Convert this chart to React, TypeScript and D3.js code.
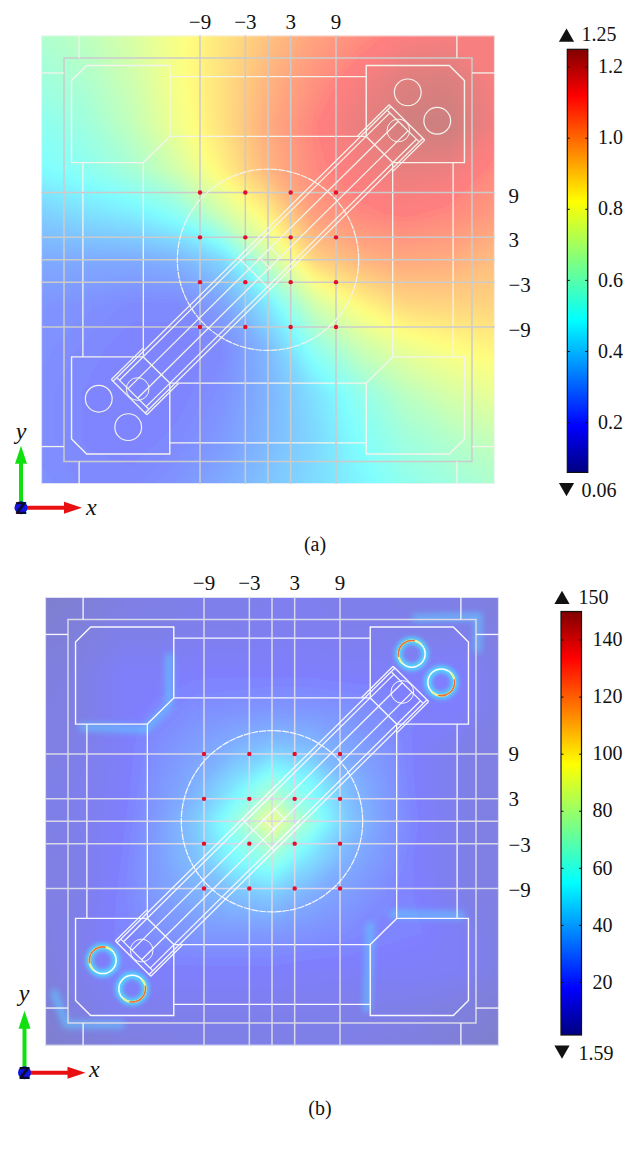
import * as d3 from 'd3';

// sample positions (model units) and field readings, rows run top to bottom
const gridA = [-30, -24, -18, -12, -6, 0, 6, 12, 18, 24, 30];
const fieldA = [
  [0.62, 0.66, 0.73, 0.81, 0.89, 0.97, 1.04, 1.09, 1.13, 1.14, 1.14],
  [0.58, 0.62, 0.7, 0.81, 0.9, 1.0, 1.08, 1.14, 1.19, 1.2, 1.14],
  [0.53, 0.58, 0.67, 0.79, 0.9, 1.02, 1.11, 1.17, 1.22, 1.23, 1.15],
  [0.49, 0.53, 0.6, 0.71, 0.86, 1.0, 1.1, 1.14, 1.17, 1.16, 1.1],
  [0.38, 0.42, 0.45, 0.52, 0.7, 0.86, 1.05, 1.1, 1.12, 1.1, 1.06],
  [0.3, 0.3, 0.3, 0.32, 0.4, 0.68, 0.93, 1.0, 1.03, 1.02, 0.98],
  [0.25, 0.24, 0.22, 0.22, 0.28, 0.44, 0.7, 0.84, 0.92, 0.93, 0.93],
  [0.24, 0.22, 0.2, 0.2, 0.22, 0.33, 0.53, 0.68, 0.77, 0.82, 0.85],
  [0.23, 0.21, 0.2, 0.2, 0.24, 0.32, 0.42, 0.54, 0.65, 0.72, 0.77],
  [0.23, 0.21, 0.2, 0.22, 0.26, 0.33, 0.4, 0.5, 0.58, 0.63, 0.68],
  [0.24, 0.22, 0.22, 0.25, 0.3, 0.36, 0.41, 0.47, 0.54, 0.58, 0.62],
];
const gridB = [-30, -25, -20, -15, -10, -5, 0, 5, 10, 15, 20, 25, 30];
const fieldB = [
  [6, 8, 11, 12, 13, 13, 14, 14, 13, 13, 12, 12, 10],
  [8, 10, 13, 13, 14, 14, 15, 15, 14, 14, 13, 14, 11],
  [10, 12, 17, 17, 18, 18, 18, 18, 17, 17, 18, 18, 12],
  [11, 12, 17, 20, 23, 24, 25, 25, 24, 22, 18, 18, 12],
  [11, 13, 17, 23, 28, 33, 38, 36, 30, 24, 17, 13, 11],
  [12, 14, 17, 25, 33, 47, 66, 55, 36, 26, 17, 13, 11],
  [12, 14, 18, 27, 40, 64, 94, 66, 40, 27, 18, 13, 11],
  [11, 13, 19, 28, 38, 55, 66, 47, 33, 25, 17, 13, 11],
  [11, 13, 20, 27, 33, 37, 40, 32, 27, 22, 18, 13, 11],
  [11, 14, 20, 24, 26, 26, 26, 24, 22, 20, 19, 16, 11],
  [10, 14, 20, 18, 18, 18, 18, 17, 17, 17, 17, 16, 11],
  [8, 12, 15, 14, 14, 14, 14, 14, 13, 13, 12, 10, 8],
  [6, 8, 10, 11, 12, 12, 12, 12, 12, 11, 10, 8, 5],
];

const probes = [-9, -3, 3, 9];
const gridLines = [-9, -3, 0, 3, 9];
const xTickLabels = ['\u22129', '\u22123', '3', '9'];
const yTickLabels = ['9', '3', '\u22123', '\u22129'];
const ticksA = [0.2, 0.4, 0.6, 0.8, 1.0, 1.2];
const ticksB = [20, 40, 60, 80, 100, 120, 140];

// plate layout in model units
const padOutline = [[26, 24], [24, 26], [13, 26], [13, 16.5], [16.5, 13], [26, 13]];
const corners = [[-1, 1], [1, 1], [-1, -1], [1, -1]];
const holes = [[18.5, 22.4], [22.4, 18.6]];
const railOffsets = [
  [3.33, 26, 20.1], [3.0, 26, -2.6], [2.5, 25.3, -2.6], [0.9, 25.3, -1.5],
];
const armBars = [[26, 3.33], [25.3, 2.9]];
const centreBars = [[-2.6, 3], [1.4, 1.2], [-0.6, 1.2]];
const glowB = [
  [[-13.6, 22], [-13.6, 15.5], [-16.5, 12.5]],
  [[-17, 12.3], [-25, 12.6]],
  [[13, -14], [12.6, -25]],
  [[16, -12.4], [25, -12.6]],
  [[19, 27.2], [27.3, 27.4], [27.2, 23]],
  [[-28.8, -23], [-27.2, -27.2], [-20, -27.2]],
];
// hot rim on the holes of panel b: centre, start and end angle in degrees
const hotArcs = [
  [18.5, 22.4, 225, 405],
  [22.4, 18.6, 45, 225],
  [-22.4, -18.6, 225, 405],
  [-18.5, -22.4, 45, 225],
];

const jetStops: [number, string][] = [
  [0, '#000080'], [0.11, '#0000ff'], [0.36, '#00ffff'],
  [0.64, '#ffff00'], [0.89, '#ff0000'], [1, '#800000'],
];
const jet = d3.scaleLinear<string>()
  .domain(jetStops.map((d) => d[0]))
  .range(jetStops.map((d) => d[1]))
  .clamp(true);

const SERIF = '"Liberation Serif", serif';

const arm = (s: number, t: number): [number, number] => [
  (s - t) / Math.SQRT2,
  (s + t) / Math.SQRT2,
];

const Panel = ({ id, dx, dy, grid, field, domain, step, lineColor, gridColor, blur, hot }: any) => {
  const x = d3.scaleLinear().domain([-9, 9]).range([200 + dx, 336 + dx]);
  const y = d3.scaleLinear().domain([-9, 9]).range([327 + dy, 192.5 + dy]);
  const color = (v: number) => jet((v - domain[0]) / (domain[1] - domain[0]));
  const unit = (x(1) - x(0));
  const toPath = (pts: number[][], close = false) =>
    d3.line().x((d) => x(d[0])).y((d) => y(d[1]))(pts as any) + (close ? 'Z' : '');

  const n = grid.length;
  const values = field.flat();
  const thresholds = d3.range(d3.min(values) as number, d3.max(values) as number, step);
  const contours = d3.contours().size([n, n]).thresholds(thresholds)(values);
  const gx = d3.scaleLinear().domain([0.5, n - 0.5]).range([x(-30), x(30)]);
  const gy = d3.scaleLinear().domain([0.5, n - 0.5]).range([y(30), y(-30)]);
  const geoPath = d3.geoPath(d3.geoTransform({
    point(px, py) { this.stream.point(gx(px), gy(py)); },
  }));

  const arc = d3.arc();
  const hole = (cx: number, cy: number, r: number, key: string, w = 1.1) => (
    <circle key={key} cx={x(cx)} cy={y(cy)} r={r * unit} fill="none" stroke={lineColor} strokeWidth={w} />
  );

  return (
    <g>
      <defs>
        <clipPath id={`plot-${id}`}>
          <rect x={x(-30)} y={y(30)} width={x(30) - x(-30)} height={y(-30) - y(30)} />
        </clipPath>
        <filter id={`soft-${id}`} x="-10%" y="-10%" width="120%" height="120%">
          <feGaussianBlur stdDeviation={blur} />
        </filter>
        <filter id={`glow-${id}`} filterUnits="userSpaceOnUse" x="0" y="0" width="636" height="1153">
          <feGaussianBlur stdDeviation="3" />
        </filter>
        <filter id={`halo-${id}`} x="-60%" y="-60%" width="220%" height="220%">
          <feGaussianBlur stdDeviation="2" />
        </filter>
      </defs>
      <g clipPath={`url(#plot-${id})`}>
        <g opacity={0.5}>
          <g filter={`url(#soft-${id})`}>
            {contours.map((c, i) => (
              <path key={i} d={geoPath(c) || ''} fill={color(c.value)} />
            ))}
          </g>
        </g>
        {hot && glowB.map((pts, i) => (
          <path key={i} d={toPath(pts)} fill="none" stroke="#62c8ff" strokeWidth={8} strokeLinecap="round" opacity={0.65} filter={`url(#glow-${id})`} />
        ))}
        <rect x={x(-30)} y={y(30)} width={x(30) - x(-30)} height={y(-30) - y(30)} fill="none" stroke="#f4f4f8" strokeWidth={1.5} />
      </g>

      {/* hot rings */}
      {hot && hotArcs.map(([cx, cy, a0, a1], i) => {
        const r = 1.77 * unit;
        const span = (a0 + a1) / 2;
        const rad = (d: number) => (d * Math.PI) / 180;
        return (
          <g key={i} transform={`translate(${x(cx)},${y(cy)})`}>
            <circle r={r} fill="none" stroke="#48e8ff" strokeWidth={7} opacity={0.85} filter={`url(#halo-${id})`} />
            <circle r={r} fill="none" stroke="#ffffff" strokeWidth={1.5} />
            <path d={arc({ innerRadius: r - 1.1, outerRadius: r + 1.1, startAngle: rad(a0), endAngle: rad(a1) }) || ''} fill="#e4f59a" />
            <path d={arc({ innerRadius: r - 0.8, outerRadius: r + 0.8, startAngle: rad(span - 58), endAngle: rad(span + 58) }) || ''} fill="#e8703a" />
          </g>
        );
      })}

      {/* frame and corner stubs */}
      <rect x={x(-27)} y={y(27)} width={x(27) - x(-27)} height={y(-27) - y(27)} fill="none" stroke={gridColor} strokeWidth={1.5} />
      {corners.map(([sx, sy], i) => (
        <g key={i} stroke={lineColor} strokeWidth={1.3}>
          <line x1={x(sx * 25)} x2={x(sx * 25)} y1={y(sy * 27)} y2={y(sy * 30)} />
          <line x1={x(sx * 27)} x2={x(sx * 30)} y1={y(sy * 25)} y2={y(sy * 25)} />
        </g>
      ))}

      {/* connectors between the pads */}
      <g stroke={lineColor} strokeWidth={1.3}>
        {[24.5, 16.5, -16.5, -24.5].map((v) => (
          <g key={v}>
            <line x1={x(-13)} x2={x(13)} y1={y(v)} y2={y(v)} />
            <line x1={x(v)} x2={x(v)} y1={y(-13)} y2={y(13)} />
          </g>
        ))}
      </g>

      {/* probe grid */}
      <g stroke={gridColor} strokeWidth={1.5}>
        {gridLines.map((v) => (
          <g key={v}>
            <line x1={x(v)} x2={x(v)} y1={y(30)} y2={y(-30)} />
            <line x1={x(-30)} x2={x(30)} y1={y(v)} y2={y(v)} />
          </g>
        ))}
      </g>

      {/* pads */}
      {corners.map(([sx, sy], i) => (
        <path key={i} d={toPath(padOutline.map(([a, b]) => [a * sx, b * sy]), true)} fill="none" stroke={lineColor} strokeWidth={1.4} />
      ))}

      <circle cx={x(0)} cy={y(0)} r={12 * unit} fill="none" stroke={lineColor} strokeWidth={1.2} strokeDasharray="7 0.8" />
      {[1, -1].map((e) => (
        <g key={e}>
          {holes.map(([a, b], i) => hole(e * a, e * b, 1.77, `h${i}`, hot ? 0 : 1.2))}
          {hole(e * 17.25, e * 17.3, 1.5, 'inner', 1)}
          {railOffsets.map(([t, s0, s1]) => [t, -t].map((tt) => (
            <path key={`${t}-${tt}`} d={toPath([arm(e * s0, tt), arm(e * s1, tt)])} stroke={lineColor} strokeWidth={1.25} fill="none" />
          )))}
          {armBars.map(([s, t]) => (
            <path key={s} d={toPath([arm(e * s, -t), arm(e * s, t)])} stroke={lineColor} strokeWidth={1.25} fill="none" />
          ))}
        </g>
      ))}
      {centreBars.map(([s, t]) => (
        <path key={s} d={toPath([arm(s, -t), arm(s, t)])} stroke={lineColor} strokeWidth={1.1} fill="none" />
      ))}

      {/* probes */}
      {probes.map((a) => probes.map((b) => (
        <circle key={`${a}-${b}`} cx={x(a)} cy={y(b)} r={2.2} fill="#e0102a" />
      )))}

      <g fontFamily={SERIF} fontSize={21} fill="#111">
        {probes.map((v, i) => (
          <text key={v} x={x(v)} y={y(30) - 7} textAnchor="middle">{xTickLabels[i]}</text>
        ))}
        {[...probes].reverse().map((v, i) => (
          <text key={v} x={508.5} y={y(v) + 7} dy={id === 'a' ? 3 : (v < 0 ? 1 : 0)}>{yTickLabels[i]}</text>
        ))}
      </g>
    </g>
  );
};

const ColorBar = ({ id, left, top, bottom, domain, ticks, labelX, format, minLabel, maxLabel, textX, triX }: any) => {
  const barW = 20.5;
  const y = d3.scaleLinear().domain(domain).range([bottom, top]);
  const tri = d3.symbol().type(d3.symbolTriangle).size(100)();
  return (
    <g fontFamily={SERIF} fontSize={20} fill="#111">
      <defs>
        <linearGradient id={`jet-${id}`} x1="0" y1="1" x2="0" y2="0">
          {jetStops.map(([o, c]) => <stop key={o} offset={o} stopColor={c} />)}
        </linearGradient>
      </defs>
      <rect x={left} y={top} width={barW} height={bottom - top} fill={`url(#jet-${id})`} stroke="#111" strokeWidth={1.2} />
      {ticks.map((t: number) => (
        <g key={t}>
          <line x1={left} x2={left + 2.5} y1={y(t)} y2={y(t)} stroke="#111" strokeWidth={1} />
          <line x1={left + barW - 2.5} x2={left + barW} y1={y(t)} y2={y(t)} stroke="#111" strokeWidth={1} />
          <text x={labelX} y={y(t) + 6.2}>{format(t)}</text>
        </g>
      ))}
      <path d={tri || ''} transform={`translate(${triX},${top - 12})`} fill="#111" />
      <text x={textX} y={top - 8}>{maxLabel}</text>
      <path d={tri || ''} transform={`translate(${triX},${bottom + 15}) rotate(180)`} fill="#111" />
      <text x={textX} y={bottom + 25}>{minLabel}</text>
    </g>
  );
};

const Triad = ({ cx, cy, xLabel, yLabel }: any) => (
  <g>
    <line x1={cx} x2={cx} y1={cy} y2={cy - 45} stroke="#10e010" strokeWidth={4} />
    <path d={`M${cx - 6},${cy - 44}L${cx},${cy - 62}L${cx + 6},${cy - 44}Z`} fill="#10e010" />
    <line x1={cx} x2={cx + 45} y1={cy} y2={cy} stroke="#e81010" strokeWidth={4} />
    <path d={`M${cx + 43},${cy - 6}L${cx + 61},${cy}L${cx + 43},${cy + 6}Z`} fill="#e81010" />
    <circle cx={cx} cy={cy} r={6.5} fill="#1414e0" />
    <text x={cx} y={cy + 6} textAnchor="middle" fontFamily='"DejaVu Sans", sans-serif' fontWeight="bold" fontSize={16} fill="#0a0a30">Z</text>
    <g fontFamily={SERIF} fontStyle="italic" fontSize={24} fill="#111">
      <text x={yLabel[0]} y={yLabel[1]} textAnchor="middle">y</text>
      <text x={xLabel[0]} y={xLabel[1]}>x</text>
    </g>
  </g>
);

export default function App() {
  return (
    <svg width={636} height={1153} style={{ position: 'absolute', left: 0, top: 0, background: '#fff' }}>
      <Panel id="a" dx={0} dy={0} grid={gridA} field={fieldA} domain={[0.06, 1.25]} step={0.012}
        lineColor="#f4f4ec" gridColor="#cbcbcb" blur={4} hot={false} />
      <Panel id="b" dx={4} dy={561.5} grid={gridB} field={fieldB} domain={[1.59, 150]} step={1}
        lineColor="#f8f8fe" gridColor="#d8d8e8" blur={4.5} hot />

      <ColorBar id="a" left={567.3} top={49.3} bottom={472.4} domain={[0.06, 1.25]} ticks={ticksA}
        labelX={598} format={(t: number) => t.toFixed(1)} minLabel="0.06" maxLabel="1.25" textX={581.5} triX={566.5} />
      <ColorBar id="b" left={561} top={611.5} bottom={1035} domain={[1.59, 150]} ticks={ticksB}
        labelX={592.5} format={(t: number) => String(t)} minLabel="1.59" maxLabel="150" textX={578.5} triX={562} />

      <Triad cx={21} cy={507.7} xLabel={[86, 515]} yLabel={[21, 439]} />
      <Triad cx={24.5} cy={1072.7} xLabel={[89, 1077]} yLabel={[24, 1001]} />

      <g fontFamily={SERIF} fontSize={20} fill="#111" textAnchor="middle">
        <text x={315} y={551}>(a)</text>
        <text x={320} y={1115}>(b)</text>
      </g>
    </svg>
  );
}
